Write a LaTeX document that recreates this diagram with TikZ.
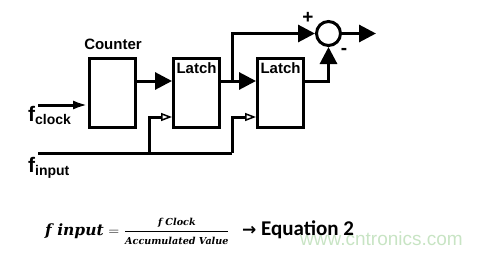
\documentclass[tikz,border=0pt]{standalone}
\usepackage{amsmath}
\usepackage{fontspec}
\usepackage{xcolor}
\usepackage{tikz}
\usetikzlibrary{arrows.meta,positioning}
\setsansfont{Liberation Sans}
\newfontfamily\eqfont{Carlito}
\newfontfamily\eqserif{DejaVu Serif}
\newfontfamily\arrfont{DejaVu Sans}
\definecolor{wmgreen}{RGB}{200,228,196}
\newcommand{\bit}[1]{{\eqserif\bfseries\itshape #1}}
\tikzset{
  blk/.style={draw, line width=3pt, minimum width=46pt, minimum height=69pt, inner sep=0pt},
  wire/.style={line width=3pt},
  sig/.style={wire, -{Triangle[length=17pt, width=17pt]}},
  clksig/.style={wire, -{Latex[length=15pt, width=9pt]}},
  insig/.style={wire, -{Triangle[open, length=11pt, width=8pt, line width=1.5pt]}},
  lbl/.style={font=\sffamily\bfseries\fontsize{15}{15}\selectfont, inner sep=0pt},
  sgn/.style={font=\sffamily\bfseries\fontsize{19}{19}\selectfont, inner sep=0pt},
  flbl/.style={font=\sffamily\bfseries, inner sep=0pt, anchor=base west}
}

\begin{document}
\begin{tikzpicture}[x=1pt, y=-1pt]
  \useasboundingbox (0,0) rectangle (484,254);
  \node[font=\sffamily\fontsize{19}{19}\selectfont, text=wmgreen, inner sep=0pt] (wm) at (381.5,239) {www.cntronics.com};
  \node[blk] (cnt) at (112.5,93) {};
  \node[blk] (lt1) at (196.5,93) {};
  \node[blk] (lt2) at (280.5,93) {};
  \node[circle, draw, line width=3pt, minimum size=24pt, inner sep=0pt] (sum) at (328.5,33.5) {};
  \node[lbl, anchor=base] (cntl) at (113,50) {Counter};
  \node[lbl, anchor=base] (lt1l) at (196.5,74) {Latch};
  \node[lbl, anchor=base] (lt2l) at (280.5,74) {Latch};
  \node[sgn] (plus) at (308,18) {+};
  \node[sgn] (minus) at (344,51) {-};
  \node[flbl] (fclk) at (28,121) {{\fontsize{21}{21}\selectfont f}\raisebox{-3pt}{\fontsize{14}{14}\selectfont clock}};
  \node[flbl] (finp) at (28,172) {{\fontsize{21}{21}\selectfont f}\raisebox{-3pt}{\fontsize{14}{14}\selectfont input}};
  \coordinate (clk) at (38,105);
  \coordinate (inp) at (38,153);
  \coordinate (j1) at (149,153);
  \coordinate (j2) at (232,153);
  \coordinate (j3) at (232,81);
  \coordinate (out) at (376,33.5);
  \draw[clksig] (clk) -- (clk -| cnt.west);
  \draw[sig] ([yshift=12pt]cnt.east) -- ([yshift=12pt]lt1.west);
  \draw[sig] ([yshift=12pt]lt1.east) -- ([yshift=12pt]lt2.west);
  \draw[wire] (inp) -- (j2);
  \draw[insig] (j1) |- ([yshift=-24pt]lt1.west);
  \draw[insig] (j2) |- ([yshift=-24pt]lt2.west);
  \draw[sig] (j3) |- (sum.west);
  \draw[sig] ([yshift=12pt]lt2.east) -| (sum.south);
  \draw[sig] (sum.east) -- (out);
  \node[anchor=base west, inner sep=0pt, font=\fontsize{15.5}{15.5}\selectfont] (eq) at (45,235) {\bit{f input} $=$ $\dfrac{\text{\bit{\fontsize{9.6}{9.6}\selectfont f Clock}}}{\text{\bit{\fontsize{9.6}{9.6}\selectfont Accumulated Value}}}$};
  \node[anchor=base west, inner sep=0pt, font=\eqfont\bfseries\fontsize{21}{21}\selectfont] (eq2) at (242,235) {{\arrfont\bfseries\fontsize{17}{17}\selectfont →} Equation 2};
\end{tikzpicture}
\end{document}
